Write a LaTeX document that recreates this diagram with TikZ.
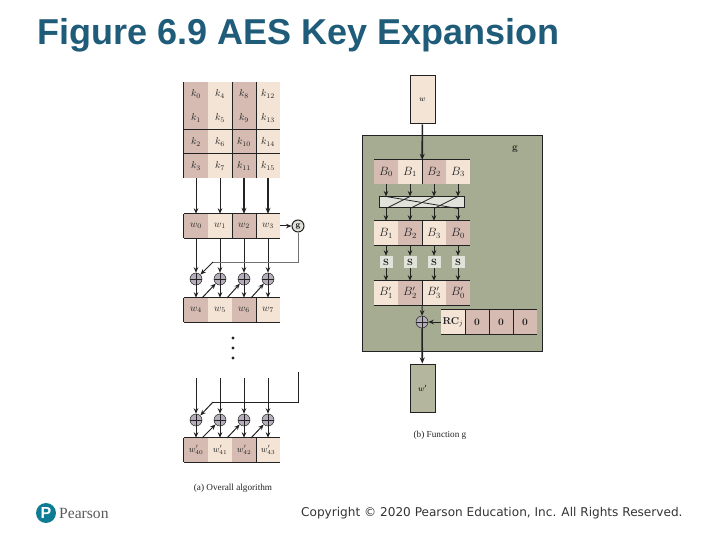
\documentclass[tikz,border=0pt]{standalone}
\usepackage{amsmath, amssymb}
\usepackage{fontspec}
\usepackage{xcolor}
\usetikzlibrary{arrows.meta}
\newfontfamily\titlefont{Liberation Sans}
\newfontfamily\copyfont{DejaVu Sans}
\newfontfamily\logofont{Liberation Serif}
\definecolor{celldark}{HTML}{D5BBB1}
\definecolor{celllight}{HTML}{F4E4D5}
\definecolor{funcgreen}{HTML}{A6AC91}
\definecolor{outgreen}{HTML}{B4B79D}
\definecolor{xorfill}{HTML}{B5ADBB}
\definecolor{sboxfill}{HTML}{E1E3DA}
\definecolor{inkdark}{HTML}{222222}
\definecolor{titleblue}{HTML}{1F5C7A}
\definecolor{logoteal}{HTML}{0F7C96}
\tikzset{
  dark/.style={fill=celldark, minimum width=24pt, minimum height=24pt, inner sep=0pt, text=inkdark, font=\normalsize},
  light/.style={fill=celllight, minimum width=24pt, minimum height=24pt, inner sep=0pt, text=inkdark, font=\normalsize},
  darkb/.style={dark, font=\large},
  lightb/.style={light, font=\large},
  rule/.style={draw=inkdark, line width=0.8pt},
  arw/.style={draw=inkdark, line width=1pt, -{Stealth[length=5.5pt,width=4.5pt]}},
  thickarw/.style={draw=inkdark, line width=1.6pt, -{Stealth[length=6pt,width=5pt]}},
  xorc/.style={circle, draw=inkdark, line width=0.5pt, fill=xorfill, minimum size=12pt, inner sep=0pt,
    path picture={\draw[inkdark, line width=0.5pt] (path picture bounding box.north) -- (path picture bounding box.south)
      (path picture bounding box.west) -- (path picture bounding box.east);}},
  sbox/.style={draw=none, fill=sboxfill, minimum width=13pt, minimum height=12pt, inner sep=0pt, font=\small\bfseries, text=inkdark},
  caption/.style={font=\logofont\fontsize{9.2}{10}\selectfont, text=inkdark}
}
\begin{document}
\begin{tikzpicture}[x=1pt, y=-1pt]
  \useasboundingbox (0,0) rectangle (720,540);
  % titolo e piede
  \node[anchor=west, inner sep=0pt, text=titleblue, font=\titlefont\bfseries\fontsize{36}{40}\selectfont] (title) at (37,35) {Figure 6.9 AES Key Expansion};
  \node[anchor=west, inner sep=0pt, text=black!80, font=\copyfont\fontsize{12.1}{14}\selectfont] (copy) at (301,513) {Copyright © 2020 Pearson Education, Inc. All Rights Reserved.};
  \node[circle, fill=logoteal, minimum size=20pt, inner sep=0pt, text=white, font=\titlefont\bfseries\fontsize{16}{16}\selectfont] (logo) at (46,513) {P};
  \node[anchor=west, inner sep=0pt, text=black!65, font=\logofont\fontsize{15.6}{16}\selectfont] (pearson) at (59,513) {Pearson};

  % (a) chiave iniziale
  \node[dark]  (k0) at (196,94)  {$k_0$};  \node[light] (k4) at (220,94)  {$k_4$};  \node[dark]  (k8)  at (244,94)  {$k_8$};     \node[light] (k12) at (268,94)  {$k_{12}$};
  \node[dark]  (k1) at (196,118) {$k_1$};  \node[light] (k5) at (220,118) {$k_5$};  \node[dark]  (k9)  at (244,118) {$k_9$};     \node[light] (k13) at (268,118) {$k_{13}$};
  \node[dark]  (k2) at (196,142) {$k_2$};  \node[light] (k6) at (220,142) {$k_6$};  \node[dark]  (k10) at (244,142) {$k_{10}$};  \node[light] (k14) at (268,142) {$k_{14}$};
  \node[dark]  (k3) at (196,166) {$k_3$};  \node[light] (k7) at (220,166) {$k_7$};  \node[dark]  (k11) at (244,166) {$k_{11}$};  \node[light] (k15) at (268,166) {$k_{15}$};
  \draw[rule] (k0.north west) -- (k3.south west);
  \draw[rule] (k4.north east) -- (k7.south east);
  \draw[rule] (k8.north east) -- (k11.south east);
  \draw[rule] (k2.north west) -- (k14.north east);
  \draw[rule] (k3.north west) -- (k15.north east);

  % parole w0..w3
  \node[dark] (w0) at (196,226) {$w_0$};  \node[light] (w1) at (220,226) {$w_1$};  \node[dark] (w2) at (244,226) {$w_2$};  \node[light] (w3) at (268,226) {$w_3$};
  \draw[rule] (w0.north west) -- (w3.north east);
  \draw[rule] (w0.south west) -- (w3.south east);
  \draw[rule] (w0.north west) -- (w0.south west);
  \draw[rule] (w1.north east) -- (w1.south east);
  \draw[rule] (w2.north east) -- (w2.south east);
  \draw[arw] (k3) -- (w0);
  \draw[arw] (k7) -- (w1);
  \draw[thickarw] (k11) -- (w2);
  \draw[thickarw] (k15) -- (w3);
  \node[circle, draw=inkdark, line width=1pt, fill=sboxfill, minimum size=12pt, inner sep=0pt, font=\footnotesize\bfseries] (gnode) at (298,226) {g};
  \draw[arw] (w3.east) -- (gnode);

  % primo giro di xor
  \node[xorc] (xa0) at (196,279) {};  \node[xorc] (xa1) at (220,279) {};  \node[xorc] (xa2) at (244,279) {};  \node[xorc] (xa3) at (268,279) {};
  \node[dark] (w4) at (196,310) {$w_4$};  \node[light] (w5) at (220,310) {$w_5$};  \node[dark] (w6) at (244,310) {$w_6$};  \node[light] (w7) at (268,310) {$w_7$};
  \draw[rule] (w4.north west) -- (w7.north east);
  \draw[rule] (w4.south west) -- (w7.south east);
  \draw[rule] (w4.north west) -- (w4.south west);
  \draw[rule] (w6.north east) -- (w6.south east);
  \draw[arw] (w0) -- (xa0);  \draw[arw] (w1) -- (xa1);  \draw[arw] (w2) -- (xa2);  \draw[arw] (w3) -- (xa3);
  \draw[arw] (xa0) -- (w4);  \draw[arw] (xa1) -- (w5);  \draw[arw] (xa2) -- (w6);  \draw[arw] (xa3) -- (w7);
  \coordinate (ga) at (213,262);
  \draw[draw=black!55, line width=1pt] (gnode) |- (ga);
  \draw[arw] (ga) -- (xa0);
  \coordinate (da0) at (202,298);  \coordinate (da1) at (227,298);  \coordinate (da2) at (251,298);
  \draw[arw] (da0) -- (xa1);  \draw[arw] (da1) -- (xa2);  \draw[arw] (da2) -- (xa3);

  % puntini
  \node[circle, fill=inkdark, inner sep=1.2pt] (dot0) at (233,338) {};
  \node[circle, fill=inkdark, inner sep=1.2pt] (dot1) at (233,348) {};
  \node[circle, fill=inkdark, inner sep=1.2pt] (dot2) at (233,358) {};

  % ultimo giro
  \coordinate (t0) at (196,378);  \coordinate (t1) at (220,378);  \coordinate (t2) at (244,378);  \coordinate (t3) at (268,378);
  \node[xorc] (xb0) at (196,420) {};  \node[xorc] (xb1) at (220,420) {};  \node[xorc] (xb2) at (244,420) {};  \node[xorc] (xb3) at (268,420) {};
  \node[dark, font=\small] (w40) at (196,450) {$w'_{40}$};  \node[light, font=\small] (w41) at (220,450) {$w'_{41}$};  \node[dark, font=\small] (w42) at (244,450) {$w'_{42}$};  \node[light, font=\small] (w43) at (268,450) {$w'_{43}$};
  \draw[rule] (w40.north west) -- (w43.north east);
  \draw[rule] (w40.south west) -- (w43.south east);
  \draw[rule] (w40.north west) -- (w40.south west);
  \draw[rule] (w42.north east) -- (w42.south east);
  \draw[arw] (t0) -- (xb0);  \draw[arw] (t1) -- (xb1);  \draw[arw] (t2) -- (xb2);  \draw[arw] (t3) -- (xb3);
  \draw[arw] (xb0) -- (w40);  \draw[arw] (xb1) -- (w41);  \draw[arw] (xb2) -- (w42);  \draw[arw] (xb3) -- (w43);
  \coordinate (gb) at (298,372);  \coordinate (gc) at (213,402);
  \draw[draw=inkdark, line width=1pt] (gb) |- (gc);
  \draw[arw] (gc) -- (xb0);
  \coordinate (db0) at (202,438);  \coordinate (db1) at (227,438);  \coordinate (db2) at (251,438);
  \draw[arw] (db0) -- (xb1);  \draw[arw] (db1) -- (xb2);  \draw[arw] (db2) -- (xb3);
  \node[caption] (capa) at (233,488) {(a) Overall algorithm};

  % (b) funzione g
  \node[draw=inkdark, line width=0.7pt, fill=funcgreen, minimum width=180pt, minimum height=216pt, inner sep=0pt] (gbox) at (452,243) {};
  \node[font=\normalsize\bfseries, text=inkdark] (glabel) at (515,149) {g};
  \node[draw=inkdark, line width=1pt, fill=celllight, minimum width=25pt, minimum height=48pt, inner sep=0pt, font=\footnotesize] (win) at (422.5,100) {$w$};
  \node[darkb]  (B0) at (386,172) {$B_0$};  \node[lightb] (B1) at (410,172) {$B_1$};  \node[darkb]  (B2) at (434,172) {$B_2$};  \node[lightb] (B3) at (458,172) {$B_3$};
  \draw[rule] (B0.north west) -- (B3.north east);
  \draw[rule] (B1.north east) -- (B1.south east);
  \draw[thickarw] (win) -- (B1.north east);

  % rotazione
  \node[draw=inkdark, line width=1pt, fill=sboxfill, minimum width=85pt, minimum height=11pt, inner sep=0pt] (rot) at (422,202.5) {};
  \node[lightb] (Ba1) at (386,233) {$B_1$};  \node[darkb] (Ba2) at (410,233) {$B_2$};  \node[lightb] (Ba3) at (434,233) {$B_3$};  \node[darkb] (Ba0) at (458,233) {$B_0$};
  \draw[rule] (Ba1.north west) -- (Ba0.north east);
  \draw[rule] (Ba1.south west) -- (Ba0.south east);
  \draw[rule] (Ba2.north east) -- (Ba2.south east);
  \draw[arw] (B0) -- (B0 |- rot.north);  \draw[arw] (B1) -- (B1 |- rot.north);  \draw[arw] (B2) -- (B2 |- rot.north);  \draw[arw] (B3) -- (B3 |- rot.north);
  \draw[arw] (Ba1 |- rot.south) -- (Ba1);  \draw[arw] (Ba2 |- rot.south) -- (Ba2);  \draw[arw] (Ba3 |- rot.south) -- (Ba3);  \draw[arw] (Ba0 |- rot.south) -- (Ba0);
  \draw[rule] (B0 |- rot.north) -- (Ba0 |- rot.south);
  \draw[rule] (B1 |- rot.north) -- (Ba1 |- rot.south);
  \draw[rule] (B2 |- rot.north) -- (Ba2 |- rot.south);
  \draw[rule] (B3 |- rot.north) -- (Ba3 |- rot.south);

  % S-box
  \node[sbox] (s1) at (386,262) {S};  \node[sbox] (s2) at (410,262) {S};  \node[sbox] (s3) at (434,262) {S};  \node[sbox] (s4) at (458,262) {S};
  \node[lightb] (Bb1) at (386,293) {$B'_1$};  \node[darkb] (Bb2) at (410,293) {$B'_2$};  \node[lightb] (Bb3) at (434,293) {$B'_3$};  \node[darkb] (Bb0) at (458,293) {$B'_0$};
  \draw[rule] (Bb1.north west) -- (Bb0.north east);
  \draw[rule] (Bb1.south west) -- (Bb0.south east);
  \draw[rule] (Bb2.north east) -- (Bb2.south east);
  \draw[arw] (Ba1) -- (s1);  \draw[arw] (Ba2) -- (s2);  \draw[arw] (Ba3) -- (s3);  \draw[arw] (Ba0) -- (s4);
  \draw[arw] (s1) -- (Bb1);  \draw[arw] (s2) -- (Bb2);  \draw[arw] (s3) -- (Bb3);  \draw[arw] (s4) -- (Bb0);

  % costante di giro
  \node[xorc] (xr) at (422,322) {};
  \node[lightb, font=\normalsize\bfseries] (rc) at (453,322) {RC$_j$};  \node[darkb, font=\normalsize\bfseries] (z0) at (477,322) {0};  \node[darkb, font=\normalsize\bfseries] (z1) at (501,322) {0};  \node[darkb, font=\normalsize\bfseries] (z2) at (525,322) {0};
  \draw[rule] (rc.north west) -- (z2.north east);
  \draw[rule] (rc.south west) -- (z2.south east);
  \draw[rule] (rc.north east) -- (rc.south east);
  \draw[rule] (z0.north east) -- (z0.south east);
  \draw[rule] (z1.north east) -- (z1.south east);
  \draw[arw] (Bb2.south east) -- (xr);
  \draw[arw] (rc) -- (xr);

  % uscita
  \node[draw=inkdark, line width=1pt, fill=outgreen, minimum width=25pt, minimum height=48pt, inner sep=0pt, font=\footnotesize] (wout) at (422.5,388) {$w'$};
  \draw[thickarw] (xr) -- (wout);
  \node[caption] (capb) at (440,435) {(b) Function g};
\end{tikzpicture}
\end{document}
